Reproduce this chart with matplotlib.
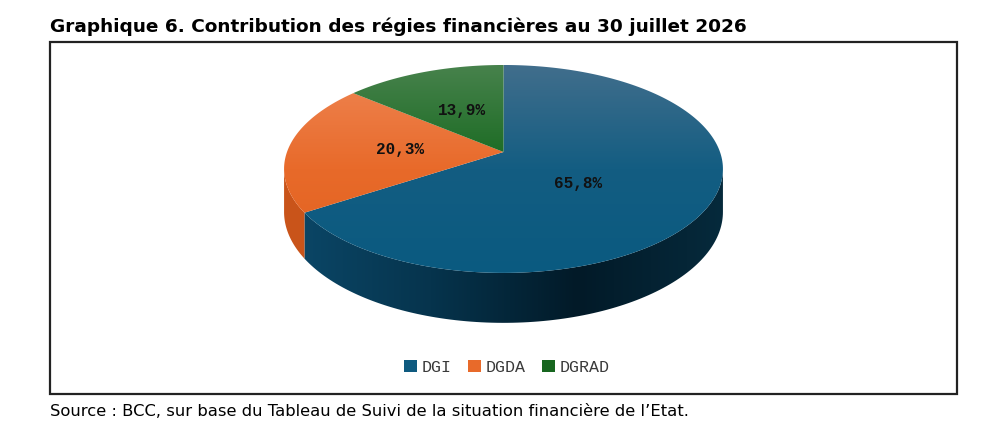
import numpy as np
import matplotlib.pyplot as plt
from matplotlib.patches import Polygon, Rectangle, Patch
from matplotlib.colors import LinearSegmentedColormap

# data
labels = ['DGI', 'DGDA', 'DGRAD']
shares = [65.8, 20.3, 13.9]
pct_text = ['65,8%', '20,3%', '13,9%']

title = 'Graphique 6. Contribution des régies financières au 30 juillet 2026'
source = "Source : BCC, sur base du Tableau de Suivi de la situation financière de l\u2019Etat."

# colours (top face gradient top->bottom, side gradient left->right)
top_cols = [['#416e8c', '#135d82', '#0a5a80'],
            ['#ef8654', '#e86a2a', '#e1611e'],
            ['#47824c', '#17691f', '#12661b']]
side_cols = [['#0b4869', '#06344d', '#021a28', '#062a3c'],
             ['#c9541a', '#d05a1e', '#d05a1e', '#d05a1e'],
             ['#135a18', '#135a18', '#135a18', '#135a18']]
legend_cols = ['#0e5a7f', '#e86a2a', '#17661f']

W, H = 994, 430
fig = plt.figure(figsize=(W / 100, H / 100), dpi=100)
ax = fig.add_axes([0, 0, 1, 1])
ax.set_xlim(0, W)
ax.set_ylim(H, 0)
ax.axis('off')

# perspective ellipse for the 3d pie
cx, cy, rx, ry, a, depth = 503.5, 152, 216.5, 101.2, 0.163, 41.8


def proj(t_deg, r=1.0, down=0.0):
    t = np.radians(t_deg)
    u = r * np.cos(t)
    v = -r * np.sin(t)
    s = 1 / (1 - a * v)
    return cx + rx * u * s, cy + ry * v * s + down * s


def gradient_fill(poly, cols, vertical, extent):
    cmap = LinearSegmentedColormap.from_list('g', cols)
    grad = np.linspace(0, 1, 256)
    img = grad.reshape(-1, 1) if vertical else grad.reshape(1, -1)
    im = ax.imshow(img, cmap=cmap, extent=extent, aspect='auto',
                   origin='upper', interpolation='bilinear', zorder=2)
    patch = Polygon(poly, closed=True, facecolor='none', edgecolor='none')
    ax.add_patch(patch)
    im.set_clip_path(patch)


xl, xr = cx - rx * 1.02, cx + rx * 1.02
ytop, ybot = proj(90)[1], proj(270)[1]

# angles: start at 12 o'clock, clockwise
bounds = 90 - np.concatenate([[0], np.cumsum(shares)]) * 3.6
t_lo = 180 + np.degrees(np.arcsin(a)) - 360
t_hi = 360 - np.degrees(np.arcsin(a)) - 360

# sides
for i in range(len(shares)):
    t1, t2 = bounds[i + 1], bounds[i]
    lo, hi = max(t1, t_lo), min(t2, t_hi)
    if lo >= hi:
        continue
    ts = np.linspace(lo, hi, 120)
    xs, ys = proj(ts)
    xb, yb = proj(ts[::-1], down=depth)
    poly = np.column_stack([np.r_[xs, xb], np.r_[ys, yb]])
    gradient_fill(poly, side_cols[i], False, (xl, xr, ybot + 60, ytop))

# top faces
for i in range(len(shares)):
    t1, t2 = bounds[i + 1], bounds[i]
    ts = np.linspace(t2, t1, 200)
    xs, ys = proj(ts)
    poly = np.column_stack([np.r_[cx, xs], np.r_[cy, ys]])
    gradient_fill(poly, top_cols[i], True, (xl, xr, ybot, ytop))

# percentage labels
label_r = [0.38, 0.48, 0.48]
for i in range(len(shares)):
    mid = (bounds[i] + bounds[i + 1]) / 2
    lx, ly = proj(mid, r=label_r[i], down=depth * 0.3 if i == 0 else 0)
    ax.text(lx, ly, pct_text[i], ha='center', va='center', fontsize=11.5,
            family='Liberation Mono', fontweight='bold', color='#111111', zorder=5)

# frame, title, source
ax.add_patch(Rectangle((50, 42), 907, 352, fill=False, edgecolor='#222222', lw=1.6, zorder=6))
t_title = ax.text(50, 32, title, fontsize=13, fontweight='bold', family='DejaVu Sans',
                  color='#000000', va='baseline', ha='left')
t_src = ax.text(50, 416, source, fontsize=11, family='DejaVu Sans', color='#000000',
                va='baseline', ha='left')

# fit text widths to the reference
fig.canvas.draw()
rend = fig.canvas.get_renderer()
for txt, target in [(t_title, 692), (t_src, 640)]:
    w = txt.get_window_extent(rend).width
    txt.set_fontsize(txt.get_fontsize() * target / w)

handles = [Patch(facecolor=c, edgecolor='none') for c in legend_cols]
fig.legend(handles, labels, loc='center', bbox_to_anchor=(507 / W, 1 - 367 / H),
           ncol=3, frameon=False, handlelength=0.75, handleheight=0.75,
           handletextpad=0.3, columnspacing=1.0,
           prop={'family': 'Liberation Mono', 'size': 12}, labelcolor='#3a3a3a')

fig.savefig('out.png', dpi=100)
